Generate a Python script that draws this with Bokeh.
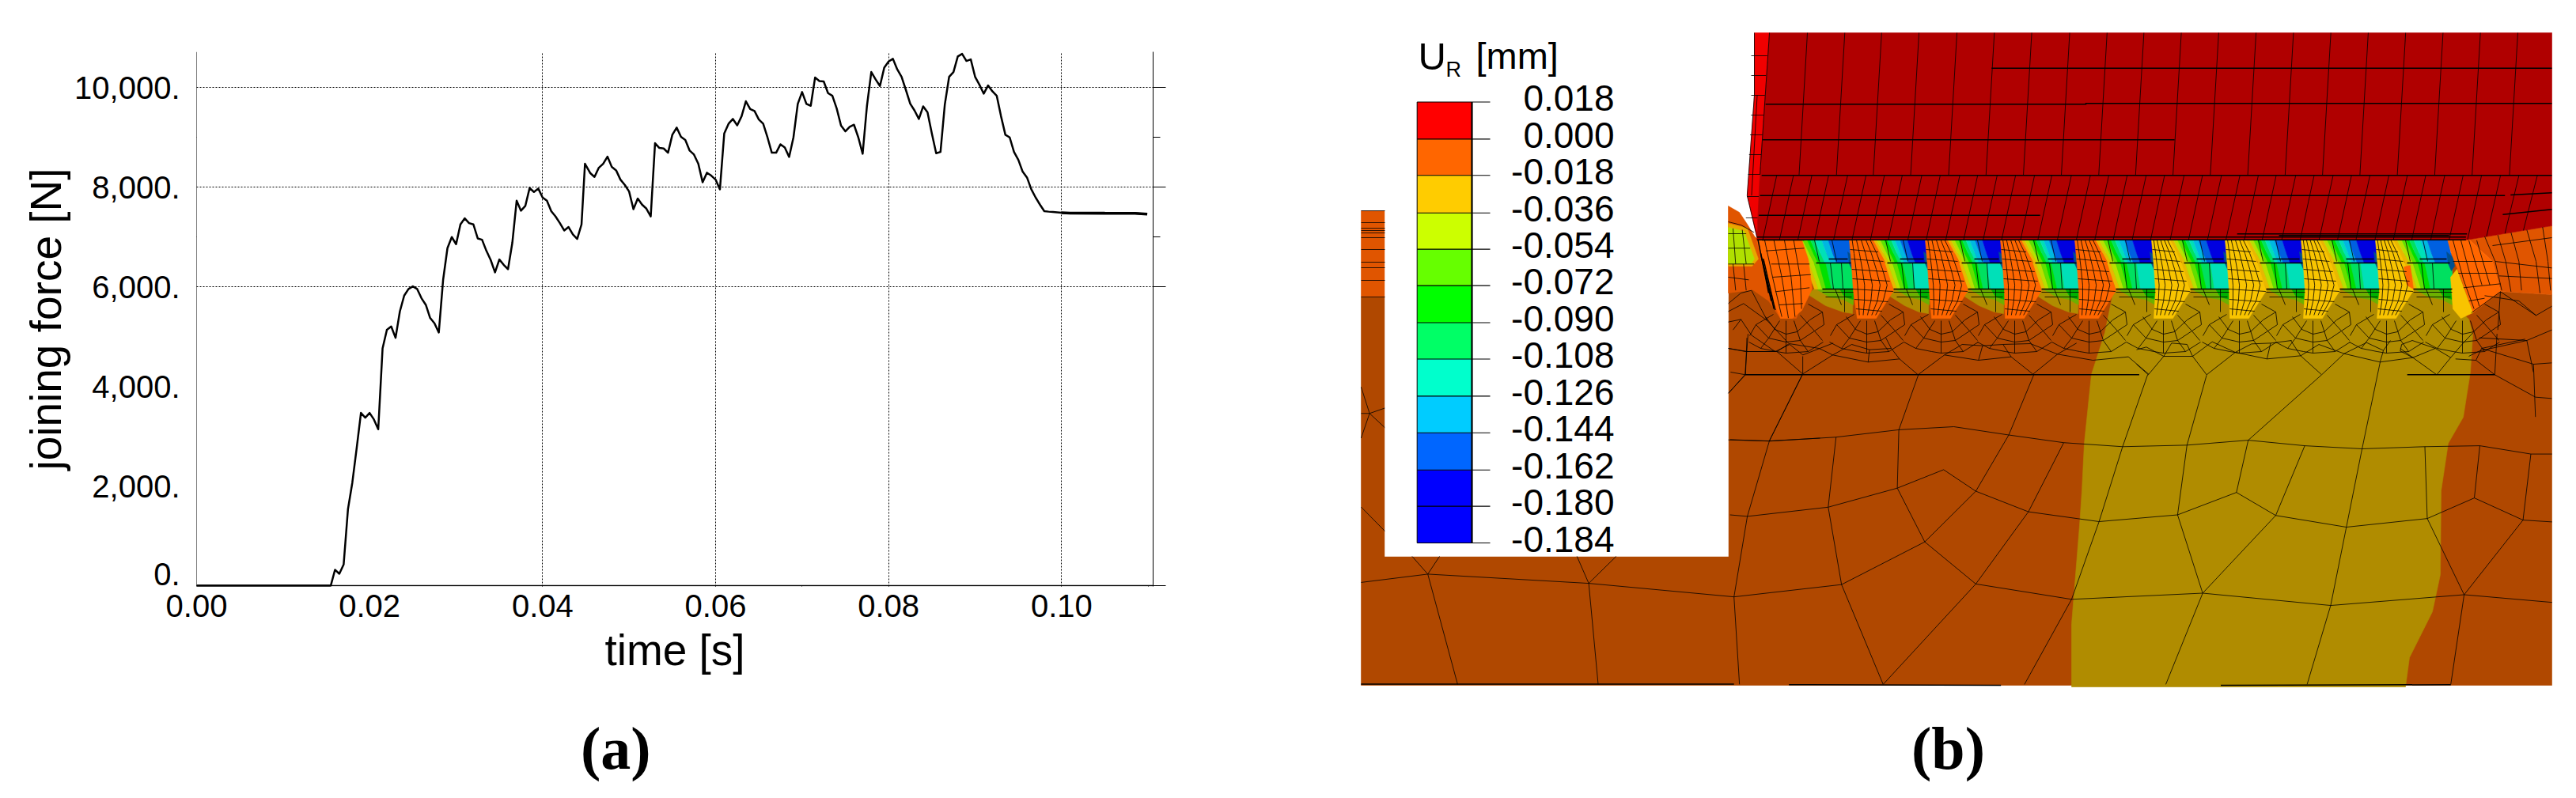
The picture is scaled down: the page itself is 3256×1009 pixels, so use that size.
import numpy as np
from bokeh.core.properties import value
from bokeh.embed import file_html
from bokeh.models import ColumnDataSource, FixedTicker, Grid, LinearAxis, Range1d
from bokeh.plotting import figure
from bokeh.resources import INLINE

# ---------------- panel (a) values ----------------
time_s = [0.0, 0.0155, 0.016, 0.0165, 0.017, 0.0175, 0.018, 0.0185, 0.019, 0.0195, 0.02, 0.0205, 0.021, 0.0215, 0.022,
          0.0225, 0.023, 0.0235, 0.024, 0.0245, 0.025, 0.0255, 0.026, 0.0265, 0.027, 0.0275, 0.028, 0.0285, 0.029,
          0.0295, 0.03, 0.0305, 0.031, 0.0315, 0.032, 0.0325, 0.033, 0.0335, 0.034, 0.0345, 0.035, 0.0355, 0.036,
          0.0365, 0.037, 0.0375, 0.038, 0.0385, 0.039, 0.0395, 0.04, 0.0405, 0.041, 0.0415, 0.042, 0.0425, 0.043,
          0.0435, 0.044, 0.0445, 0.0449, 0.0455, 0.046, 0.0465, 0.047, 0.0475, 0.048, 0.0485, 0.049, 0.0495, 0.05,
          0.0505, 0.051, 0.0515, 0.052, 0.0525, 0.053, 0.0535, 0.054, 0.0545, 0.055, 0.0555, 0.056, 0.0565, 0.057,
          0.0575, 0.058, 0.0585, 0.059, 0.0595, 0.06, 0.0605, 0.061, 0.0615, 0.062, 0.0625, 0.063, 0.0635, 0.064,
          0.0645, 0.065, 0.0655, 0.066, 0.0665, 0.067, 0.0675, 0.068, 0.0685, 0.069, 0.0695, 0.07, 0.0705, 0.071,
          0.0715, 0.072, 0.0725, 0.073, 0.0735, 0.074, 0.0745, 0.075, 0.0755, 0.076, 0.0765, 0.077, 0.0775, 0.078,
          0.0785, 0.079, 0.0795, 0.08, 0.0805, 0.081, 0.0815, 0.082, 0.0825, 0.083, 0.0835, 0.084, 0.0845, 0.085,
          0.0855, 0.086, 0.0865, 0.087, 0.0875, 0.088, 0.0885, 0.089, 0.0895, 0.09, 0.0905, 0.091, 0.0915, 0.092,
          0.0925, 0.093, 0.0935, 0.094, 0.0945, 0.095, 0.0955, 0.096, 0.0965, 0.097, 0.0975, 0.098, 0.0985, 0.099,
          0.1, 0.101, 0.105, 0.1085, 0.1099]
force_n = [0, 0, 323, 243, 429, 1540, 2069, 2757, 3471, 3376, 3471, 3339, 3143, 4767, 5138,
           5206, 4979, 5508, 5825, 5958, 6011, 5958, 5773, 5640, 5376, 5270, 5085, 6143, 6778,
           7000, 6857, 7254, 7376, 7280, 7254, 6973, 6947, 6725, 6540, 6291, 6550, 6444, 6355,
           6884, 7730, 7529, 7624, 7984, 7905, 7974, 7794, 7730, 7519, 7413, 7280, 7132, 7201,
           7053, 6963, 7254, 8471, 8286, 8206, 8392, 8471, 8614, 8407, 8339, 8153, 8048, 7915,
           7561, 7773, 7651, 7571, 7413, 8884, 8788, 8778, 8693, 9053, 9196, 9011, 8947, 8735,
           8656, 8471, 8101, 8291, 8233, 8153, 7958, 9079, 9275, 9370, 9243, 9423, 9725, 9571,
           9529, 9360, 9275, 9000, 8693, 8693, 8862, 8799, 8608, 9000, 9672, 9910, 9672, 9635,
           10201, 10132, 10122, 9889, 9836, 9582, 9238, 9122, 9212, 9254, 9000, 8672, 9635, 10312,
           10164, 10032, 10402, 10524, 10577, 10365, 10217, 9952, 9677, 9540, 9370, 9624, 9503, 9079,
           8683, 8709, 9661, 10217, 10312, 10624, 10677, 10534, 10566, 10217, 10058, 9878, 10042, 9926,
           9836, 9423, 9053, 9000, 8709, 8550, 8312, 8196, 7958, 7794, 7651, 7519, 7510, 7503,
           7487, 7481, 7478, 7476, 7460]
x_label_ticks = [0.0, 0.02, 0.04, 0.06, 0.08, 0.10]
x_label_texts = ["0.00", "0.02", "0.04", "0.06", "0.08", "0.10"]
x_major_marks = [0.0, 0.04, 0.06, 0.08, 0.10]
x_minor_marks = [0.07, 0.11]
x_grid_at = [0.04, 0.06, 0.08, 0.10]
y_label_ticks = [2000, 4000, 6000, 8000, 10000]
y_label_texts = ["2,000.", "4,000.", "6,000.", "8,000.", "10,000."]
y_major_marks = [0, 6000, 8000, 10000]
y_minor_marks = [7000, 9000]
y_grid_at = [6000, 8000, 10000]

# ---------------- panel (b) legend values ----------------
legend_labels = ["0.018", "0.000", "-0.018", "-0.036", "-0.054", "-0.072", "-0.090", "-0.108", "-0.126", "-0.144",
                 "-0.162", "-0.180", "-0.184"]
legend_colors = ["#FF0000", "#FF6600", "#FFCC00", "#CCFF00", "#66FF00", "#00FF00", "#00FF66", "#00FFCC", "#00CCFF",
                 "#0066FF", "#0000FF", "#0000FF"]
legend_edges = [128.5, 175.4, 221.3, 268.7, 314.6, 360.6, 407.5, 453.5, 500.4, 546.8, 593.7, 639.6, 686.0]

# ---------------- panel (a) ----------------
FONT = "Liberation Sans"
SERIF = "Liberation Serif"
p1 = figure(width=1700, height=993, output_backend="svg", toolbar_location=None, x_axis_type=None, y_axis_type=None,
            x_range=Range1d(0, 0.11058), y_range=Range1d(-11, 10718),
            min_border_left=240, min_border_right=251, min_border_top=57, min_border_bottom=260)
p1.outline_line_color = None
p1.styles = {"position": "absolute", "left": "8px", "top": "8px"}

xa = LinearAxis(ticker=FixedTicker(ticks=x_label_ticks), major_label_overrides=dict(zip(x_label_ticks, x_label_texts)),
                axis_label="time [s]", axis_label_text_font=FONT, axis_label_text_font_size="55px",
                axis_label_text_font_style="normal", axis_label_standoff=8, axis_label_text_color="black",
                major_label_text_font=FONT, major_label_text_font_size="40px", major_label_standoff=2,
                major_label_text_color="black",
                axis_line_color=None, major_tick_line_color=None, minor_tick_line_color=None,
                major_tick_out=8, major_tick_in=0)
p1.add_layout(xa, "below")
xb = LinearAxis(ticker=FixedTicker(ticks=x_major_marks, minor_ticks=x_minor_marks), fixed_location=0,
                major_label_overrides={t: "" for t in x_major_marks}, major_label_text_color=None,
                major_tick_out=17, major_tick_in=0, minor_tick_out=7, minor_tick_in=0,
                axis_line_color="black", axis_line_width=1.3, major_tick_line_color="black", minor_tick_line_color="black")
p1.add_layout(xb, "below")
ya = LinearAxis(ticker=FixedTicker(ticks=y_label_ticks), major_label_overrides=dict(zip(y_label_ticks, y_label_texts)),
                axis_label="joining force [N]", axis_label_text_font=FONT, axis_label_text_font_size="55px",
                axis_label_text_font_style="normal", axis_label_standoff=2, axis_label_text_color="black",
                major_label_text_font=FONT, major_label_text_font_size="40px", major_label_standoff=5,
                major_label_text_color="black",
                axis_line_color=None, major_tick_line_color=None, minor_tick_line_color=None,
                major_tick_out=16, major_tick_in=0)
p1.add_layout(ya, "left")
yb = LinearAxis(ticker=FixedTicker(ticks=y_major_marks, minor_ticks=y_minor_marks), fixed_location=0,
                major_label_overrides={t: "" for t in y_major_marks}, major_label_text_color=None,
                major_tick_out=16, major_tick_in=0, minor_tick_out=9, minor_tick_in=0,
                axis_line_color="black", major_tick_line_color="black", minor_tick_line_color="black")
p1.add_layout(yb, "left")
yr = LinearAxis(ticker=FixedTicker(ticks=y_major_marks, minor_ticks=y_minor_marks),
                major_label_overrides={t: "" for t in y_major_marks}, major_label_text_color=None,
                major_tick_out=16, major_tick_in=0, minor_tick_out=9, minor_tick_in=0,
                axis_line_color="black", major_tick_line_color="black", minor_tick_line_color="black")
p1.add_layout(yr, "right")
p1.add_layout(Grid(dimension=0, ticker=FixedTicker(ticks=x_grid_at), grid_line_color="black",
                   grid_line_dash=[2, 2], grid_line_width=1))
p1.add_layout(Grid(dimension=1, ticker=FixedTicker(ticks=y_grid_at), grid_line_color="black",
                   grid_line_dash=[2, 2], grid_line_width=1))
p1.line(time_s, force_n, line_color="black", line_width=2.5, line_join="round")
p1.line(time_s[-5:], force_n[-5:], line_color="black", line_width=3.6)
p1.line(time_s[:2], force_n[:2], line_color="black", line_width=3.0)
p1.text(x=[0], y=[0], text=["0."], x_offset=-21, y_offset=-15, text_font=value(FONT), text_font_size="40px",
        text_align="right", text_baseline="middle", text_color="black", level="overlay")
p1.text(x=[0.04845], y=[-3250], text=["(a)"], text_font=value(SERIF), text_font_size="76px",
        text_font_style="bold", text_align="center", text_baseline="alphabetic", text_color="black", level="overlay")

# ---------------- panel (b): FE mesh drawn in picture-space units ----------------
p2 = figure(width=1540, height=993, output_backend="svg", toolbar_location=None, x_axis_type=None, y_axis_type=None,
            x_range=Range1d(1708, 3248), y_range=Range1d(1001, 8),
            min_border_left=0, min_border_right=0, min_border_top=0, min_border_bottom=0)
p2.outline_line_color = None
p2.grid.visible = False
p2.styles = {"position": "absolute", "left": "1708px", "top": "8px"}

BROWN, OLIVE, ORANGE_S, ORANGE, YELLOW = "#B04800", "#B08C00", "#E05500", "#FF6600", "#F8C400"
z5 = lambda x, y: (1700 + x / 2.613, 20 + y / 2.24)
z6 = lambda x, y: (2150 + x / 1.4177, 20 + y / 3)
z7 = lambda x, y: (1700 + x / 1.0077, 400 + y / 2.575)
z8 = lambda x, y: (2180 + x / 3, 270 + y / 3)
z9 = lambda x, y: (2900 + x / 3, 270 + y / 3)
z10 = lambda x, y: (2180 + x / 2.904, 420 + y / 3)
z11 = lambda x, y: (2700 + x / 2.82, 420 + y / 3)


def polys(fn, chains):
    return [[fn(*pt) for pt in c] for c in chains]


fills = []  # (points, colour)


def fill(points, colour):
    fills.append((points, colour))


brown_region = [(1720, 375), (2184, 375), (2184, 369), (2213, 366), (2240, 320), (3120, 320), (3160, 368), (3225, 372),
                (3225, 866), (1720, 866)]
olive_region = [(2672, 362), (2660, 420), (2643, 473), (2634, 560), (2631, 620), (2628, 664), (2618, 788), (2618, 868),
                (3040, 868), (3045, 831), (3074, 773), (3084, 726), (3085, 620), (3094, 560), (3113, 527), (3122, 470),
                (3125, 423), (3120, 403), (3100, 385), (3100, 362)]
fill(brown_region, BROWN)
fill(olive_region, OLIVE)
fill([(1720, 266), (1760, 266), (1760, 375), (1720, 375)], ORANGE_S)
fill([(1750, 260), (2184, 260), (2184, 703), (1750, 703)], "#FFFFFF")

# top-left shoulder next to the punch
fill([(2184, 260), (2198, 268), (2208, 283), (2217, 298), (2222, 303), (2280, 303), (2292, 350), (2270, 402),
      (2250, 402), (2235, 380), (2215, 366), (2184, 370)], ORANGE_S)
fill([(2184, 282), (2208, 288), (2222, 327), (2214, 336), (2184, 336)], "#E8A800")
fill([(2184, 287), (2204, 292), (2217, 327), (2213, 333), (2184, 333)], "#B0E000")

# teeth
tooth_left = [2277, 2367, 2461, 2554, 2648, 2742, 2838, 2931, 3024]
tooth_right = [2337, 2433, 2528, 2622, 2719, 2812, 2908, 3002, 3094]
band_shift = [-10, 0, 0, 0, 0, 0, 0, 0, 0]
ridge_color = [ORANGE, ORANGE, ORANGE, ORANGE, YELLOW, YELLOW, YELLOW, YELLOW]
up_a = [("#E8B800", .0), ("#B8E000", .08), ("#60E000", .16), ("#00E000", .24), ("#00E060", .30), ("#00E0B8", .38),
        ("#00B8E0", .50), ("#0060E0", .62), (None, 1.0)]
up_b = [("#E8B800", .0), ("#B8E000", .07), ("#60E000", .14), ("#00E000", .21), ("#00E060", .28), ("#00E0B8", .35),
        ("#00B8E0", .42), ("#0060E0", .52), ("#0000E0", .66), (None, 1.0)]
lo_a = [("#E8B800", .0), ("#B8E000", .10), ("#60E000", .20), ("#00E000", .30), ("#00E060", .44), (None, 1.0)]
lo_b = [("#E8B800", .0), ("#B8E000", .10), ("#60E000", .20), ("#00E000", .30), ("#00E060", .42), ("#00E0B8", .62),
        (None, 1.0)]
up_sets = [up_a, up_b, up_b, up_b, up_b, up_b, up_b, up_b, up_a]
lo_sets = [lo_a, lo_b, lo_b, lo_b, lo_b, lo_b, lo_b, lo_b, lo_a]

for L0, R, up, lo, sh in zip(tooth_left, tooth_right, up_sets, lo_sets, band_shift):
    L = L0 + sh
    # lower wedge
    fill([(L + 25, 365), (R + 5, 365), (R + 4, 396), (R - 8, 394), (L + 40, 386), (L + 18, 372)], OLIVE)
    fill([(L + 28, 365), (R + 5, 365), (R + 5, 385), (R - 8, 378), (L + 45, 375)], "#6CB000")
    fill([(R - 12, 365), (R + 5, 365), (R + 5, 378), (R - 6, 375)], "#00B000")
    # lower block
    lt, lb, rt, rb = L + 13, L + 26, R + 5, R + 5
    for (c, f0), (_, f1) in zip(lo[:-1], lo[1:]):
        fill([(lt + f0 * (rt - lt), 332), (lt + f1 * (rt - lt), 332), (lb + f1 * (rb - lb), 365),
              (lb + f0 * (rb - lb), 365)], c)
    # upper section
    lt, lm, lb, rt, rm, rb = L, L + 8, L + 16, R, R + 3, R + 7
    for (c, f0), (_, f1) in zip(up[:-1], up[1:]):
        fill([(lt + f0 * (rt - lt), 303), (lt + f1 * (rt - lt), 303), (lm + f1 * (rm - lm), 318),
              (lb + f1 * (rb - lb), 332), (lb + f0 * (rb - lb), 332), (lm + f0 * (rm - lm), 318)], c)
    fill([(R - 2, 318), (R + 6, 325), (R + 8, 336), (R + 4, 342), (R, 333)], "#005090")

# ridges
fill([(2220, 303), (2277, 303), (2285, 327), (2290, 365), (2277, 392), (2265, 402), (2250, 402), (2232, 360),
      (2224, 320)], ORANGE)
ridge_edges = []
for k in range(8):
    R, L = tooth_right[k], tooth_left[k + 1]
    tip = L - 8
    left_edge = ([303, 337, 367, 402], [R, R + 3, R + 5, tip - 12])
    right_edge = ([303, 327, 367, 392, 402], [L, L + 13, L + 26, L + 10, tip + 12])
    ridge_edges.append((left_edge, right_edge))
    fill([(R, 303), (L, 303), (L + 13, 327), (L + 26, 367), (L + 10, 392), (tip + 12, 402), (tip - 12, 402),
          (R + 5, 367), (R + 3, 337)], ridge_color[k])

# right-hand flank
fill([(3120, 302), (3225, 285), (3225, 372), (3160, 368), (3150, 330)], ORANGE_S)
fill([(3093, 302), (3120, 302), (3150, 330), (3160, 368), (3125, 395), (3110, 350), (3098, 320)], ORANGE)
fill([(3097, 350), (3105, 340), (3125, 395), (3110, 402), (3100, 390)], YELLOW)
fill([(3038, 337), (3046, 335), (3050, 365), (3042, 360)], ORANGE)

# punch
fill([(2217, 41), (2236, 41), (2224, 220), (2224, 247), (2220, 299), (2208, 247), (2217, 120)], "#F00000")
fill([(2236, 41), (3225, 41), (3225, 285), (3116, 303), (2220, 303), (2224, 220)], "#B00000")

p2.patches([[pt[0] for pt in f[0]] for f in fills], [[pt[1] for pt in f[0]] for f in fills],
           fill_color=[f[1] for f in fills], line_color=[f[1] for f in fills], line_width=0.6)

# ---- element edges ----
thin, bold = [], []

punch_col_top = [190, 257, 323, 390, 458, 525, 592, 660, 727, 793, 860, 927, 994, 1061, 1128, 1195, 1262, 1329, 1396,
                 1463]
punch_col_low = [135, 165, 198, 228, 262, 295, 328, 360, 395, 428, 463, 495, 530, 563, 597, 628, 663, 697, 730, 763,
                 797, 830, 865, 898, 932, 965, 998, 1030, 1065, 1098, 1132, 1165, 1198, 1232, 1265, 1298, 1332, 1365,
                 1398, 1432, 1465, 1498]
strip_row_y = [70, 95, 120, 145, 170, 195, 220, 248, 275]
for x in punch_col_top:
    thin += polys(z6, [[(x, 63), (x - 15, 604)]])
for x in punch_col_low:
    xb_ = x - 25
    yb_ = 848 if xb_ < 1370 else 848 - (xb_ - 1370) * 53 / 154
    thin += polys(z6, [[(x, 604), (xb_, yb_)]])
for yy in strip_row_y:
    thin.append([(2213 - (yy > 140) * (yy - 140) * 0.05, yy), (2235 - (yy - 41) * 0.06, yy)])
bold += polys(z6, [[(520, 197), (1524, 197)], [(115, 334), (690, 334)], [(688, 331), (1524, 331)],
                   [(110, 469), (848, 469)], [(108, 604), (1524, 604)], [(105, 680), (1440, 680)],
                   [(103, 755), (607, 755)], [(100, 838), (1370, 838)], [(100, 848), (1370, 848)],
                   [(1450, 678), (1524, 670)], [(1436, 752), (1524, 733)], [(960, 826), (1372, 826)],
                   [(1035, 832), (1340, 832)]])
thin += polys(z6, [[(122, 63), (105, 600)], [(95, 63), (95, 300), (82, 680), (100, 840)], [(100, 300), (90, 680)]])

# coarse mesh, lower part of the panel
thin += polys(z7, [
    [(490, 400), (540, 405), (625, 392), (705, 368), (775, 358), (845, 385), (915, 410), (990, 423), (1072, 418),
     (1150, 402), (1222, 420), (1295, 430), (1375, 423), (1445, 420), (1510, 447), (1537, 447)],
    [(490, 645), (512, 650), (615, 620), (703, 558), (762, 498), (803, 568), (870, 635), (960, 667), (1060, 645),
     (1135, 572), (1185, 647), (1275, 685), (1378, 657), (1438, 590), (1500, 662), (1537, 668)],
    [(703, 558), (738, 733), (803, 568)], [(738, 733), (803, 870)], [(738, 733), (632, 872)], [(1060, 645), (1092, 900)],
    [(1185, 647), (1092, 900)],
    [(20, 865), (105, 838), (310, 868), (495, 912), (632, 872)],
    [(803, 870), (925, 920), (1092, 900), (1255, 940), (1425, 905), (1537, 930)],
    [(105, 838), (143, 1197)], [(310, 868), (322, 1197)], [(495, 912), (502, 1197)], [(632, 872), (685, 1197)],
    [(803, 870), (685, 1197)], [(925, 920), (865, 1197)], [(1092, 900), (1045, 1197)], [(1255, 940), (1225, 1197)],
    [(1425, 905), (1408, 1197)],
    [(540, 405), (512, 650), (495, 912)], [(625, 392), (615, 620), (632, 872)], [(705, 368), (703, 558)],
    [(845, 385), (803, 568)], [(915, 410), (870, 635), (803, 870)], [(990, 423), (960, 667), (925, 920)],
    [(1072, 418), (1060, 645)], [(1150, 402), (1135, 572)], [(1222, 420), (1185, 647)],
    [(1295, 430), (1275, 685), (1255, 940)], [(1375, 423), (1378, 657), (1425, 905)], [(1445, 420), (1438, 590)],
    [(1510, 447), (1500, 662), (1425, 905)],
    [(582, 188), (540, 405)], [(730, 188), (705, 368)], [(877, 188), (845, 385)], [(1022, 188), (990, 423)],
    [(1097, 190), (1072, 418)], [(1243, 190), (1150, 402)], [(1318, 148), (1295, 430)],
    [(85, 780), (105, 838), (120, 780)], [(295, 780), (310, 868), (345, 780)],
])
bold += polys(z7, [[(20, 1196), (495, 1196)], [(565, 1198), (835, 1200)], [(1115, 1200), (1408, 1198)]])

# chains just under the teeth, left and right halves
thin += polys(z10, [
    [(12, 60), (75, 72), (190, 72)],
    [(190, 72), (285, 157), (395, 85), (525, 112), (640, 100), (708, 160), (805, 85), (930, 105), (1050, 92),
     (1130, 158), (1220, 82), (1350, 105), (1480, 92), (1555, 158)],
    [(395, 85), (465, 45), (530, 65), (610, 60), (640, 100)], [(530, 65), (525, 112)], [(610, 60), (590, 20)],
    [(805, 85), (870, 45), (945, 50), (1020, 45), (1050, 92)], [(945, 50), (930, 105)],
    [(1020, 45), (1120, 42), (1220, 82)], [(1220, 82), (1290, 40)], [(285, 157), (285, 90)],
    [(235, 42), (190, 72)], [(235, 42), (345, 60), (395, 85)], [(80, 20), (75, 160)], [(20, 150), (75, 160), (12, 230)],
])
bold += polys(z10, [[(75, 160), (1520, 160)]])
thin += polys(z11, [
    [(0, 65), (35, 55), (97, 90), (200, 90), (250, 160), (352, 75), (465, 100), (585, 88), (660, 160), (740, 80),
     (868, 112), (985, 95), (1070, 160), (1120, 95), (1160, 45), (1200, 0)],
    [(42, 160), (0, 120)], [(42, 160), (97, 90)], [(97, 90), (125, 40), (180, 45), (200, 90)],
    [(352, 75), (270, 35), (200, 90)], [(352, 75), (410, 43), (480, 40), (553, 30)], [(465, 100), (478, 40)],
    [(585, 88), (550, 30)], [(740, 80), (650, 45), (585, 88)], [(740, 80), (820, 38), (880, 68), (868, 112)],
    [(880, 68), (905, 30)], [(940, 60), (985, 95), (1065, 60), (1120, 95)], [(985, 95), (940, 70), (945, 45), (983, 30),
                                                                             (1065, 60)],
    [(1210, 105), (1277, 160)], [(1137, 100), (1210, 105)], [(1210, 105), (1230, 60), (1385, 25)],
    [(1230, 60), (1415, 120), (1480, 115)], [(1285, 5), (1277, 160)], [(1422, 245), (1480, 250)],
    [(1415, 120), (1422, 320)], [(1422, 245), (1277, 160)],
])
bold += polys(z11, [[(965, 160), (1277, 160)]])

# left strip and below the legend box
thin += polys(z5, [[(52, 1195), (80, 1125), (130, 1165)], [(80, 1125), (130, 1110)], [(52, 1125), (80, 1125)],
                   [(52, 1390), (130, 1458)], [(52, 1050), (80, 1125)], [(1265, 1200), (1400, 1203), (1568, 1195)],
                   [(1400, 1203), (1510, 1015)], [(1265, 1068), (1320, 1015), (1510, 1015)], [(1320, 1015), (1330, 900)]])
strip_rows = [266, 281, 288, 291, 294, 300, 315, 331, 338, 354, 375]
for yy in strip_rows:
    thin.append([(1720, yy), (1750, yy)])

# shoulder left of first tooth
thin += polys(z8, [
    [(12, 30), (60, 42), (110, 70)], [(12, 75), (80, 75)], [(12, 130), (95, 130)], [(12, 190), (110, 190)],
    [(30, 55), (40, 190)], [(65, 60), (80, 190)], [(12, 240), (90, 250)], [(30, 190), (40, 290)], [(70, 190), (80, 290)],
    [(140, 100), (300, 100)], [(155, 140), (300, 130)], [(175, 190), (320, 190)], [(180, 240), (325, 230)],
    [(190, 295), (320, 280)], [(205, 345), (295, 340)],
    [(150, 100), (180, 240), (215, 390)], [(185, 100), (215, 240), (240, 395)], [(225, 100), (250, 240), (265, 390)],
    [(260, 100), (285, 240), (290, 360)],
    [(12, 340), (60, 300), (100, 290)], [(12, 370), (70, 340), (160, 405)], [(100, 290), (160, 405), (240, 490)],
    [(12, 410), (60, 400), (100, 460), (190, 522)], [(30, 440), (60, 400)], [(12, 510), (85, 522), (190, 522)],
    [(190, 522), (245, 495), (295, 535)], [(295, 535), (410, 490)],
])
bold += polys(z8, [[(140, 170), (185, 360)], [(145, 170), (190, 365)], [(135, 150), (175, 330)], [(125, 100), (165, 300)]])

# right flank
thin += polys(z9, [
    [(720, 85), (760, 180), (785, 290)], [(770, 80), (800, 180), (820, 295)], [(820, 70), (850, 180), (860, 290)],
    [(880, 60), (915, 180), (930, 300)], [(940, 50), (960, 180), (970, 290)],
    [(760, 180), (975, 205)], [(775, 235), (975, 245)], [(750, 120), (975, 90)],
    [(600, 100), (640, 250), (680, 360)], [(630, 100), (670, 250), (700, 350)], [(660, 100), (710, 270)],
    [(690, 100), (740, 270)], [(600, 180), (750, 180)], [(620, 225), (770, 225)], [(640, 280), (780, 265)],
    [(660, 330), (720, 320)],
    [(670, 375), (780, 295), (915, 385), (975, 350)], [(780, 295), (770, 440)], [(700, 470), (880, 480), (975, 440)],
    [(880, 480), (905, 600)], [(660, 540), (700, 520), (880, 480)], [(720, 310), (850, 330), (915, 385)],
])

# per-tooth edges
fan_arcs = [
    [(-26, -2), (-14, 14), (0, 20), (14, 17), (30, 2), (46, -8)],
    [(-38, 8), (-22, 25), (0, 30), (18, 28), (36, 16), (48, 8)],
    [(0, 3), (0, 30), (0, 44)], [(-8, 3), (-22, 25), (-32, 38)], [(10, 3), (18, 28), (28, 42)],
    [(18, -4), (36, 16), (46, 28)], [(-16, -5), (-38, 8), (-46, 22)], [(28, -18), (46, -8), (48, 8)],
    [(-47, 30), (-32, 38), (-12, 42), (0, 44), (28, 42), (47, 30)],
]
ridge_col_frac = [0.12, 0.3, 0.5, 0.7, 0.88]
ridge_row_y = [315, 327, 340, 352, 365, 378, 390]
fan_centres = [2257] + [L - 8 for L in tooth_left[1:]] + [3112]
for tip in fan_centres:
    for arc in fan_arcs:
        thin.append([(tip + dx, 402 + dy) for dx, dy in arc])
for (le, re) in ridge_edges:
    ys_ = [303, 320, 340, 360, 380, 398]
    lx = np.interp(ys_, *le)
    rx = np.interp(ys_, *re)
    for f in ridge_col_frac:
        thin.append([(float(a + f * (b - a)), y) for a, b, y in zip(lx, rx, ys_)])
    for y in ridge_row_y:
        a = float(np.interp(y, *le))
        b = float(np.interp(y, *re))
        thin.append([(a, y), (b, y + 3)])
for L, R in zip(tooth_left, tooth_right):
    bold.append([(L + 34, 327), (R - 2, 327)])
    bold.append([(L + 18, 332), (R + 2, 332)])
    bold.append([(L + 26, 365), (R + 5, 365)])
    thin.append([(L + 26, 369), (R + 5, 369)])
    thin.append([(L + 30, 375), (R + 3, 375)])
    thin.append([(L + 36, 332), (L + 40, 365)])
    thin.append([(L + 50, 332), (L + 52, 365)])
    thin.append([(L + 16, 303), (L + 22, 330)])
    thin.append([(L + 38, 303), (L + 44, 330)])
    thin.append([(R - 6, 365), (R - 6, 394)])
    thin.append([(L + 42, 365), (L + 50, 385)])

for group, width in ((thin, 0.8), (bold, 1.5)):
    p2.multi_line([[pt[0] for pt in c] for c in group], [[pt[1] for pt in c] for c in group],
                  line_color="black", line_width=width)

# ---- legend ----
p2.quad(left=1790.7, right=1859.6, top=legend_edges[:-1], bottom=legend_edges[1:], fill_color=legend_colors,
        line_color=None)
p2.segment(x0=1790.7, x1=1883, y0=legend_edges, y1=legend_edges, line_color="black", line_width=1.1)
p2.segment(x0=[1790.7, 1860], x1=[1790.7, 1860], y0=legend_edges[0], y1=legend_edges[-1], line_color="black",
           line_width=[1, 2.2])
legend_src = ColumnDataSource(dict(x=[2040] * len(legend_labels), y=legend_edges, text=legend_labels))
p2.text("x", "y", "text", source=legend_src, text_font=value(FONT), text_font_size="46px", text_align="right",
        text_baseline="middle", y_offset=-5, text_color="black")
for txt, x, y, size in (("U", 1792, 70, "49px"), ("R", 1827, 87, "27px"), ("[mm]", 1865, 70, "47px")):
    p2.text(x=[x], y=[y], text=[txt], text_font=value(FONT), text_font_size=size, text_align="left",
            text_baseline="alphabetic", text_color="black")
p2.text(x=[2462], y=[945], text=["(b)"], text_font=value(SERIF), text_font_size="76px",
        text_font_style="bold", text_align="center", text_baseline="alphabetic", text_color="black")

open("out.html", "w").write(file_html([p1, p2], INLINE))
